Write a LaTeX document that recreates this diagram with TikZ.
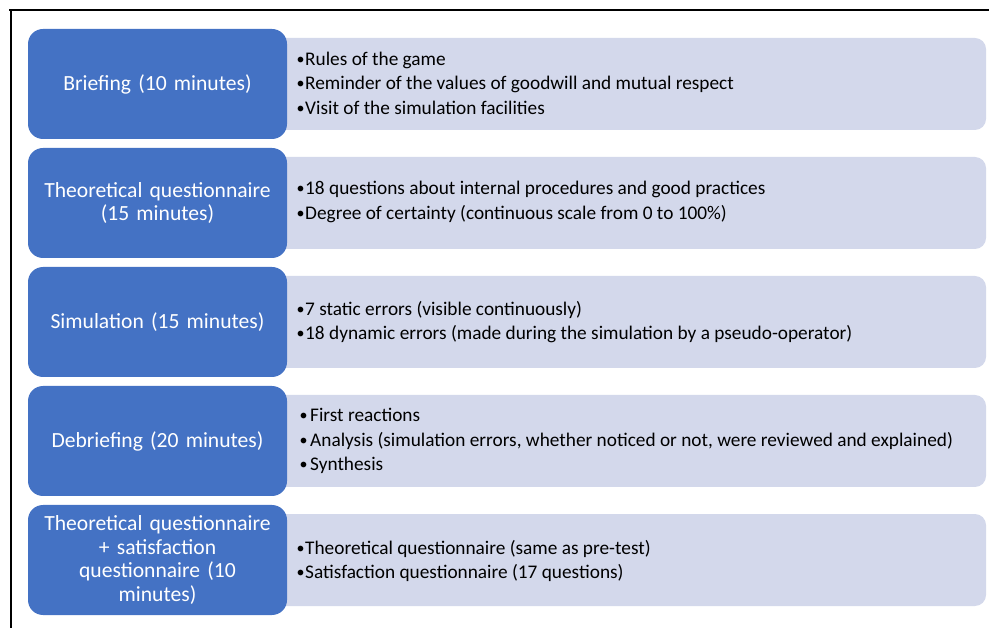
\documentclass[tikz,border=0pt]{standalone}
\usepackage{fontspec}
\setmainfont{Carlito}
\definecolor{bluefill}{HTML}{4472C4}
\definecolor{lightfill}{HTML}{D3D8EB}
\newcommand{\blt}{\raisebox{1pt}{\fontsize{16}{16}\selectfont •}}
\newcommand{\itm}[1]{\makebox[9pt][l]{\hspace{0.5pt}\blt}#1}
\newcommand{\itmb}[1]{\makebox[14pt][l]{\hspace{3.5pt}\blt}#1}
\begin{document}
\begin{tikzpicture}[x=1pt,y=-1pt,
 bluebox/.style={fill=bluefill, rounded corners=15pt, minimum width=259pt, minimum height=110pt, text=white, font=\fontsize{21.6}{23.6}\selectfont, align=center, text width=250pt, inner sep=0pt},
 lightbox/.style={fill=lightfill, rounded corners=11pt, minimum width=716pt, minimum height=92pt, inner sep=0pt},
 itemtext/.style={font=\fontsize{19.3}{24.4}\selectfont, align=left, anchor=west, inner sep=0pt}]
\useasboundingbox (0,0) rectangle (989,628);
\draw[line width=2pt] (9,10.5) -- (989,10.5);
\draw[line width=2pt] (10.5,9.5) -- (10.5,628);
% light boxes
\node[lightbox] (l1) at (628,84) {};
\node[lightbox] (l2) at (628,203) {};
\node[lightbox] (l3) at (628,322) {};
\node[lightbox] (l4) at (628,441) {};
\node[lightbox] (l5) at (628,560) {};
% blue boxes
\node[bluebox] (b1) at (157.5,84) {Briefing (10 minutes)};
\node[bluebox] (b2) at (157.5,203) {Theoretical questionnaire\\(15 minutes)};
\node[bluebox] (b3) at (157.5,322) {Simulation (15 minutes)};
\node[bluebox] (b4) at (157.5,441) {Debriefing (20 minutes)};
\node[bluebox] (b5) at (157.5,560) {Theoretical questionnaire\\+ satisfaction\\questionnaire (10\\minutes)};
% texts
\node[itemtext] (t1) at (296,83) {\itm{Rules of the game}\\\itm{Reminder of the values of goodwill and mutual respect}\\\itm{Visit of the simulation facilities}};
\node[itemtext] (t2) at (296,202) {\itm{18 questions about internal procedures and good practices}\\\itm{Degree of certainty (continuous scale from 0 to 100\%)}};
\node[itemtext] (t3) at (296,322) {\itm{7 static errors (visible continuously)}\\\itm{18 dynamic errors (made during the simulation by a pseudo-operator)}};
\node[itemtext] (t4) at (296,441) {\itmb{First reactions}\\\itmb{Analysis (simulation errors, whether noticed or not, were reviewed and explained)}\\\itmb{Synthesis}};
\node[itemtext] (t5) at (296,561) {\itm{Theoretical questionnaire (same as pre-test)}\\\itm{Satisfaction questionnaire (17 questions)}};
\end{tikzpicture}
\end{document}
